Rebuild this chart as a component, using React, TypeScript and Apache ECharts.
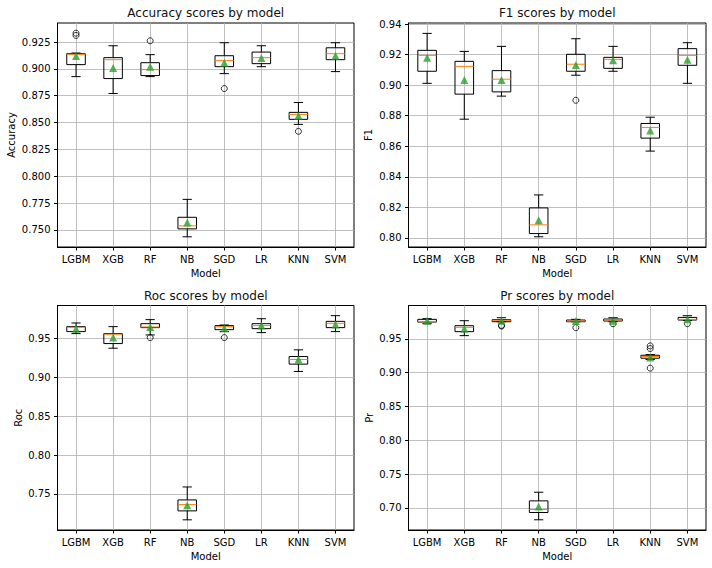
import React, { useEffect, useRef } from "react";
import * as echarts from "echarts";

const models = ["LGBM", "XGB", "RF", "NB", "SGD", "LR", "KNN", "SVM"];

// Accuracy
const accLo = [0.8928, 0.8771, 0.8928, 0.7435, 0.8956, 0.9021, 0.8483, 0.8975];
const accQ1 = [0.904, 0.891, 0.8938, 0.7509, 0.9021, 0.9049, 0.853, 0.9086];
const accMed = [0.9136, 0.9086, 0.8993, 0.7537, 0.9077, 0.9105, 0.8576, 0.9142];
const accQ3 = [0.9142, 0.9105, 0.9058, 0.7617, 0.9123, 0.9157, 0.8595, 0.9197];
const accHi = [0.9148, 0.9216, 0.9133, 0.7784, 0.9244, 0.9216, 0.8687, 0.9244];
const accMean = [0.912, 0.9009, 0.9021, 0.7568, 0.9058, 0.9102, 0.8564, 0.9123];
const accOut = [[0, 0.9333], [0, 0.9312], [2, 0.9262], [4, 0.8817], [6, 0.8418]];
const accTicks = [0.75, 0.775, 0.8, 0.825, 0.85, 0.875, 0.9, 0.925];

// F1
const f1Lo = [0.9012, 0.8777, 0.8928, 0.8007, 0.9065, 0.9091, 0.8568, 0.9012];
const f1Q1 = [0.9091, 0.8941, 0.8956, 0.8028, 0.9091, 0.911, 0.8653, 0.913];
const f1Med = [0.9195, 0.9123, 0.9039, 0.8085, 0.9137, 0.9169, 0.8723, 0.9195];
const f1Q3 = [0.9228, 0.9156, 0.9095, 0.8196, 0.9202, 0.9182, 0.8749, 0.9239];
const f1Hi = [0.9339, 0.9221, 0.9254, 0.8281, 0.9304, 0.9254, 0.879, 0.9278];
const f1Mean = [0.918, 0.9034, 0.9034, 0.8115, 0.9132, 0.9163, 0.8703, 0.9167];
const f1Out = [[4, 0.8901]];
const f1Ticks = [0.8, 0.82, 0.84, 0.86, 0.88, 0.9, 0.92, 0.94];

// Roc
const rocLo = [0.9564, 0.9376, 0.9547, 0.7167, 0.959, 0.9577, 0.9077, 0.959];
const rocQ1 = [0.959, 0.9436, 0.9641, 0.7282, 0.9615, 0.9628, 0.9171, 0.9641];
const rocMed = [0.9645, 0.9556, 0.965, 0.7363, 0.9654, 0.9667, 0.9231, 0.9697];
const rocQ3 = [0.9654, 0.9564, 0.9692, 0.7423, 0.9667, 0.9692, 0.9269, 0.9722];
const rocHi = [0.9701, 0.9654, 0.9744, 0.759, 0.9675, 0.9756, 0.9355, 0.9795];
const rocMean = [0.9628, 0.9513, 0.965, 0.7355, 0.9632, 0.9667, 0.923, 0.968];
const rocOut = [[2, 0.9513], [4, 0.9513]];
const rocTicks = [0.75, 0.8, 0.85, 0.9, 0.95];

// Pr
const prLo = [0.9726, 0.9549, 0.9755, 0.6824, 0.9755, 0.9755, 0.9196, 0.9775];
const prQ1 = [0.975, 0.9608, 0.9755, 0.6932, 0.9755, 0.9765, 0.9215, 0.978];
const prMed = [0.9755, 0.9672, 0.9775, 0.6976, 0.9765, 0.978, 0.924, 0.979];
const prQ3 = [0.979, 0.9696, 0.9785, 0.7104, 0.978, 0.9795, 0.9259, 0.9819];
const prHi = [0.98, 0.977, 0.9814, 0.7232, 0.979, 0.9814, 0.9269, 0.9844];
const prMean = [0.977, 0.9652, 0.977, 0.702, 0.9765, 0.977, 0.9225, 0.979];
const prOut = [[2, 0.9691], [2, 0.97], [4, 0.9667], [5, 0.9726], [6, 0.9397], [6, 0.9358], [6, 0.9068], [7, 0.9726]];
const prTicks = [0.7, 0.75, 0.8, 0.85, 0.9, 0.95];

const FONT = "DejaVu Sans";

const panels = [
  { title: "Accuracy scores by model", yName: "Accuracy", lo: accLo, q1: accQ1, med: accMed, q3: accQ3, hi: accHi, mean: accMean, out: accOut, ticks: accTicks, dec: 3, yMin: 0.734, yMax: 0.9428, left: 57.5, top: 23, width: 296.5, height: 224, nameGap: 41.5 },
  { title: "F1 scores by model", yName: "F1", lo: f1Lo, q1: f1Q1, med: f1Med, q3: f1Q3, hi: f1Hi, mean: f1Mean, out: f1Out, ticks: f1Ticks, dec: 2, yMin: 0.794, yMax: 0.9407, left: 408.5, top: 23, width: 297.5, height: 224, nameGap: 34.8 },
  { title: "Roc scores by model", yName: "Roc", lo: rocLo, q1: rocQ1, med: rocMed, q3: rocQ3, hi: rocHi, mean: rocMean, out: rocOut, ticks: rocTicks, dec: 2, yMin: 0.7036, yMax: 0.9926, left: 57.5, top: 305.5, width: 296.5, height: 224.5, nameGap: 33.8 },
  { title: "Pr scores by model", yName: "Pr", lo: prLo, q1: prQ1, med: prMed, q3: prQ3, hi: prHi, mean: prMean, out: prOut, ticks: prTicks, dec: 2, yMin: 0.6673, yMax: 0.9995, left: 408.5, top: 305.5, width: 297.5, height: 224.5, nameGap: 34.5 },
];

const xTicks = [1, 2, 3, 4, 5, 6, 7, 8];

function renderBox(params: any, api: any) {
  const x = api.value(0);
  const pLo = api.coord([x, api.value(1)]);
  const pQ1 = api.coord([x, api.value(2)]);
  const pMed = api.coord([x, api.value(3)]);
  const pQ3 = api.coord([x, api.value(4)]);
  const pHi = api.coord([x, api.value(5)]);
  const boxW = api.size([0.5, 0])[0];
  const capW = boxW / 2;
  const cx = pLo[0];
  const black = { stroke: "#000", lineWidth: 1, fill: null };
  return {
    type: "group",
    children: [
      { type: "rect", shape: { x: cx - boxW / 2, y: pQ3[1], width: boxW, height: pQ1[1] - pQ3[1] }, style: { ...black, fill: "none" } },
      { type: "line", shape: { x1: cx, y1: pQ1[1], x2: cx, y2: pLo[1] }, style: black },
      { type: "line", shape: { x1: cx, y1: pQ3[1], x2: cx, y2: pHi[1] }, style: black },
      { type: "line", shape: { x1: cx - capW / 2, y1: pLo[1], x2: cx + capW / 2, y2: pLo[1] }, style: black },
      { type: "line", shape: { x1: cx - capW / 2, y1: pHi[1], x2: cx + capW / 2, y2: pHi[1] }, style: black },
      { type: "line", shape: { x1: cx - boxW / 2, y1: pMed[1], x2: cx + boxW / 2, y2: pMed[1] }, style: { stroke: "#ff7f0e", lineWidth: 1 } },
    ],
  };
}

export default function App() {
  const ref = useRef<HTMLDivElement>(null);
  useEffect(() => {
    document.body.style.margin = "0";
    if (!ref.current) return;
    const chart = echarts.init(ref.current, null, { renderer: "svg" });
    const grid: any[] = [];
    const xAxis: any[] = [];
    const yAxis: any[] = [];
    const title: any[] = [];
    const series: any[] = [];
    panels.forEach((p, i) => {
      grid.push({ left: p.left, top: p.top, width: p.width, height: p.height, show: true, borderColor: "#000", borderWidth: 1, backgroundColor: "transparent" });
      title.push({
        text: p.title,
        left: p.left + p.width / 2,
        textAlign: "center",
        top: p.top - 16,
        padding: 0,
        textStyle: { fontFamily: FONT, fontSize: 12, fontWeight: 400, color: "#111" },
      });
      xAxis.push({
        gridIndex: i,
        type: "value",
        min: 0.5,
        max: 8.5,
        name: "Model",
        nameLocation: "middle",
        nameGap: 21,
        nameTextStyle: { fontFamily: FONT, fontSize: 10, color: "#000" },
        axisLine: { show: true, onZero: false, lineStyle: { color: "#000", width: 1 } },
        axisTick: { show: true, length: 3.5, customValues: xTicks, lineStyle: { color: "#000" } },
        axisLabel: { customValues: xTicks, margin: 7, fontFamily: FONT, fontSize: 10, color: "#000", formatter: (v: number) => models[Math.round(v) - 1] },
        splitLine: { show: true, lineStyle: { color: "#b0b0b0", width: 0.8 } },
      });
      yAxis.push({
        gridIndex: i,
        type: "value",
        min: p.yMin,
        max: p.yMax,
        name: p.yName,
        nameLocation: "middle",
        nameGap: p.nameGap,
        nameTextStyle: { fontFamily: FONT, fontSize: 10, color: "#000" },
        axisLine: { show: true, onZero: false, lineStyle: { color: "#000", width: 1 } },
        axisTick: { show: true, length: 3.5, customValues: p.ticks, lineStyle: { color: "#000" } },
        axisLabel: { customValues: p.ticks, margin: 7, fontFamily: FONT, fontSize: 10, color: "#000", formatter: (v: number) => v.toFixed(p.dec) },
        splitLine: { show: true, lineStyle: { color: "#b0b0b0", width: 0.8 } },
      });
      const boxData = models.map((_, k) => [k + 1, p.lo[k], p.q1[k], p.med[k], p.q3[k], p.hi[k]]);
      series.push({
        type: "custom",
        xAxisIndex: i,
        yAxisIndex: i,
        renderItem: renderBox,
        encode: { x: 0, y: [1, 2, 3, 4, 5] },
        data: boxData,
        z: 2,
      });
      series.push({
        type: "scatter",
        xAxisIndex: i,
        yAxisIndex: i,
        symbol: "circle",
        symbolSize: 6,
        itemStyle: { color: "rgba(0,0,0,0)", borderColor: "#000", borderWidth: 1 },
        data: p.out.map((o) => [o[0] + 1, o[1]]),
        z: 3,
      });
      series.push({
        type: "scatter",
        xAxisIndex: i,
        yAxisIndex: i,
        symbol: "triangle",
        symbolSize: 8,
        itemStyle: { color: "#2ca02c" },
        data: p.mean.map((m, k) => [k + 1, m]),
        z: 4,
      });
    });
    chart.setOption({ animation: false, backgroundColor: "#fff", title, grid, xAxis, yAxis, series });
    return () => chart.dispose();
  }, []);
  return <div ref={ref} style={{ width: 712, height: 568 }} />;
}
